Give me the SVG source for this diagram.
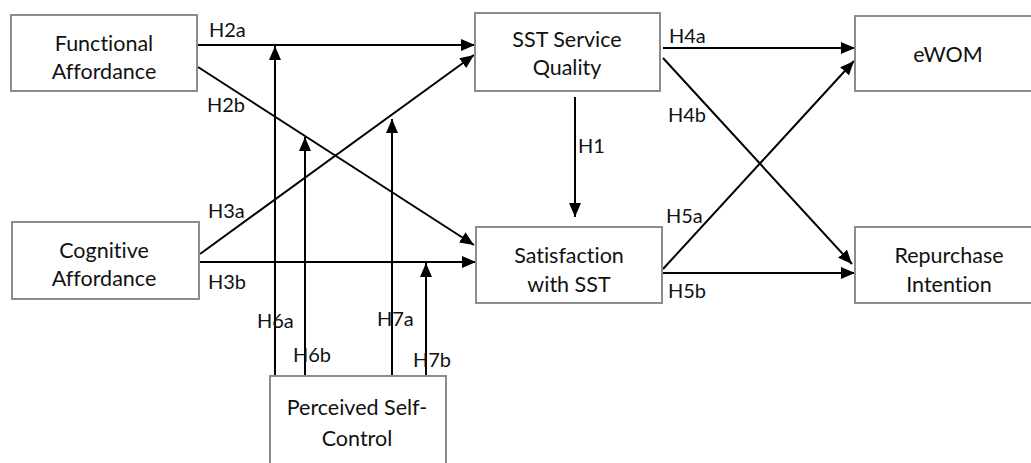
<svg xmlns="http://www.w3.org/2000/svg" width="1031" height="463" viewBox="0 0 1031 463">
  <defs>
    <style>
      .box { fill: #ffffff; stroke: #8c8c8c; stroke-width: 2; }
      .lbl { font-family: Lato, "Open Sans", "Liberation Sans", sans-serif; font-size: 20px; fill: #111111; font-variant-ligatures: none; }
      .node { font-size: 21.5px; }
      .mid { text-anchor: middle; }
      .edge { stroke: #000000; stroke-width: 2; fill: none; }
      .arr { marker-end: url(#head); }
    </style>
    <marker id="head" markerUnits="userSpaceOnUse" markerWidth="14" markerHeight="12" refX="14" refY="6" orient="auto" viewBox="0 0 14 12">
      <path d="M0,0 L14,6 L0,12 Z" fill="#000000"/>
    </marker>
  </defs>
  <rect width="1031" height="463" fill="#ffffff"/>

  <!-- paths between constructs -->
  <g id="connectors">
    <line class="edge arr" x1="198" y1="45" x2="475" y2="45"/>
    <line class="edge arr" x1="198" y1="67" x2="474" y2="245"/>
    <line class="edge arr" x1="200" y1="254" x2="474" y2="55"/>
    <line class="edge arr" x1="200" y1="262" x2="476" y2="262"/>
    <line class="edge arr" x1="575" y1="97" x2="575" y2="217"/>
    <line class="edge arr" x1="663" y1="48" x2="855" y2="48"/>
    <line class="edge arr" x1="663" y1="58" x2="852" y2="264"/>
    <line class="edge arr" x1="663" y1="269" x2="854" y2="61"/>
    <line class="edge arr" x1="663" y1="273" x2="855" y2="273"/>
    <!-- moderating paths from Perceived Self-Control -->
    <line class="edge arr" x1="275" y1="376" x2="275" y2="46"/>
    <line class="edge arr" x1="305" y1="376" x2="305" y2="137"/>
    <line class="edge arr" x1="392" y1="376" x2="392" y2="119"/>
    <line class="edge arr" x1="426" y1="376" x2="426" y2="263"/>

    <text class="lbl" x="209" y="37">H2a</text>
    <text class="lbl" x="207" y="112">H2b</text>
    <text class="lbl" x="208" y="218">H3a</text>
    <text class="lbl" x="208" y="289">H3b</text>
    <text class="lbl" x="578" y="153">H1</text>
    <text class="lbl" x="669" y="43">H4a</text>
    <text class="lbl" x="668" y="122">H4b</text>
    <text class="lbl" x="666" y="223">H5a</text>
    <text class="lbl" x="668" y="298">H5b</text>
    <text class="lbl" x="257" y="328">H6a</text>
    <text class="lbl" x="293" y="362">H6b</text>
    <text class="lbl" x="377" y="326">H7a</text>
    <text class="lbl" x="413" y="367">H7b</text>
  </g>

  <g id="functional-affordance">
    <rect class="box" x="11" y="15" width="186" height="76"/>
    <text class="lbl node mid" x="104" y="51">Functional</text>
    <text class="lbl node mid" x="104" y="79">Affordance</text>
  </g>

  <g id="cognitive-affordance">
    <rect class="box" x="12" y="222" width="187" height="77"/>
    <text class="lbl node mid" x="104" y="258">Cognitive</text>
    <text class="lbl node mid" x="104" y="286">Affordance</text>
  </g>

  <g id="sst-service-quality">
    <rect class="box" x="475" y="13" width="185" height="78"/>
    <text class="lbl node mid" x="567" y="47">SST Service</text>
    <text class="lbl node mid" x="567" y="75">Quality</text>
  </g>

  <g id="satisfaction">
    <rect class="box" x="476" y="227" width="186" height="76"/>
    <text class="lbl node mid" x="569" y="263">Satisfaction</text>
    <text class="lbl node mid" x="569" y="292">with SST</text>
  </g>

  <g id="ewom">
    <rect class="box" x="855" y="16" width="186" height="75"/>
    <text class="lbl node mid" x="948" y="62">eWOM</text>
  </g>

  <g id="repurchase-intention">
    <rect class="box" x="855" y="227" width="186" height="76"/>
    <text class="lbl node mid" x="949" y="263">Repurchase</text>
    <text class="lbl node mid" x="949" y="292">Intention</text>
  </g>

  <g id="perceived-self-control">
    <rect class="box" x="270" y="376" width="176" height="100"/>
    <text class="lbl node mid" x="357" y="415">Perceived Self-</text>
    <text class="lbl node mid" x="357" y="446">Control</text>
  </g>
</svg>
